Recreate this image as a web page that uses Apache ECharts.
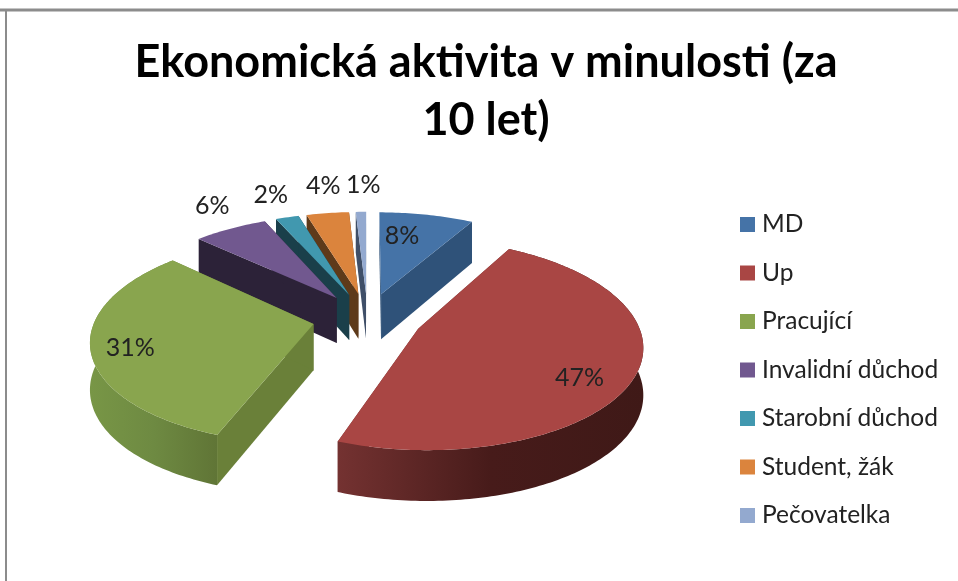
<!DOCTYPE html>
<html>
<head>
<meta charset="utf-8">
<style>
  html, body { margin: 0; padding: 0; background: #fff; }
  #chart { width: 958px; height: 581px; }
</style>
<script src="https://cdn.jsdelivr.net/npm/echarts@6/dist/echarts.min.js"></script>
</head>
<body>
<div id="chart"></div>
<script>
const categories = ['MD', 'Up', 'Pracující', 'Invalidní důchod', 'Starobní důchod', 'Student, žák', 'Pečovatelka']
const values = [8.2, 47.4, 31.4, 6.4, 2, 3.7, 0.9]
const colors = ['#4573A7', '#A94644', '#89A54E', '#71588F', '#4198AF', '#DB843D', '#93A9CF']
const sideColors = ['#2F5279', '#6F2E2D', '#6A8039', '#2C2238', '#1A3F4A', '#5E3A1A', '#3F4F68']
// rim shading, only the two front slices show it
const rimColors = [null, ['#743231', '#471B1A', '#3F1917'], ['#789646', '#6E8A42', '#607536'], null, null, null, null]
// label spot in the slice: angle in degrees, share of the radius
const labelSpots = [[9.6, 0.69], [123.6, 0.8], [254, 0.83], [328, 1.33], [340.2, 1.34], [351.4, 1.39], [359.3, 1.39]]

// view of the tilted disc
const cx = 367.5
const cy = 318
const radius = 218
const explode = 55
const tilt = 0.46
const viewDist = 1500
const depth = 46

const total = values.reduce((a, b) => a + b, 0)
const startAngles = values.map((v, i) => values.slice(0, i).reduce((a, b) => a + b, 0) / total * 360)

function disc(deg, r) {
  const a = deg * Math.PI / 180
  return [Math.sin(a) * r, -Math.cos(a) * r]
}

function project(w) {
  const s = 1 / (1 - w[1] / viewDist)
  return [cx + w[0] * s, cy + w[1] * tilt * s]
}

function drop(w) {
  const p = project(w)
  return [p[0], p[1] + depth + w[1] * 0.02]
}

function renderSlice(params, api) {
  const i = params.seriesIndex
  const from = startAngles[i]
  const to = from + api.value(0) / total * 360
  const off = disc((from + to) / 2, explode)
  const at = (deg, r) => {
    const d = disc(deg, r)
    return [off[0] + d[0], off[1] + d[1]]
  }
  const rim = []
  for (let deg = from; deg < to; deg += 1) rim.push(at(deg, radius))
  rim.push(at(to, radius))

  const tip = off
  const first = rim[0]
  const last = rim[rim.length - 1]
  const quad = (a, b) => [project(a), project(b), drop(b), drop(a)]
  const side = { fill: sideColors[i] }
  const children = [
    { type: 'polygon', shape: { points: quad(tip, first) }, style: side },
    { type: 'polygon', shape: { points: quad(tip, last) }, style: side }
  ]
  if (rimColors[i]) {
    const c = rimColors[i]
    children.push({
      type: 'polygon',
      shape: { points: rim.map(project).concat(rim.map(drop).reverse()) },
      style: {
        fill: new echarts.graphic.LinearGradient(0, 0, 1, 0, [
          { offset: 0, color: c[0] },
          { offset: 0.5, color: c[1] },
          { offset: 1, color: c[2] }
        ])
      }
    })
  }
  children.push({
    type: 'polygon',
    shape: { points: [project(tip)].concat(rim.map(project)) },
    style: { fill: colors[i] }
  })
  const spot = project(at(labelSpots[i][0], labelSpots[i][1] * radius))
  children.push({
    type: 'text',
    style: {
      x: spot[0],
      y: spot[1],
      text: Math.round(api.value(0)) + '%',
      fill: '#222',
      font: '25px Lato',
      textAlign: 'center',
      verticalAlign: 'middle'
    }
  })
  return { type: 'group', children: children }
}

const myChart = echarts.init(document.getElementById('chart'))
const option = {
  animation: false,
  backgroundColor: '#fff',
  title: {
    text: 'Ekonomická aktivita v minulosti (za\n10 let)',
    left: 481,
    top: 28,
    textAlign: 'center',
    textStyle: {
      color: '#000',
      fontFamily: 'Lato',
      fontWeight: 'bold',
      fontSize: 45,
      lineHeight: 58
    }
  },
  legend: {
    orient: 'vertical',
    left: 735,
    top: 207,
    data: categories,
    icon: 'rect',
    itemWidth: 15,
    itemHeight: 15,
    itemGap: 23.5,
    selectedMode: false,
    textStyle: {
      color: '#222',
      fontFamily: 'Lato',
      fontSize: 24.5,
      padding: [0, 0, 0, 2]
    }
  },
  graphic: [
    { type: 'line', silent: true, shape: { x1: 0, y1: 10, x2: 958, y2: 10 }, style: { stroke: '#8c8c8c', lineWidth: 3 } },
    { type: 'line', silent: true, shape: { x1: 6, y1: 9, x2: 6, y2: 581 }, style: { stroke: '#8c8c8c', lineWidth: 2 } }
  ],
  series: categories.map((name, i) => ({
    type: 'custom',
    name: name,
    coordinateSystem: 'none',
    silent: true,
    // front slices paint over the back ones
    z: 2 + Math.round(-Math.cos((startAngles[i] + values[i] / total * 180) * Math.PI / 180) * 50 + 50),
    itemStyle: { color: colors[i] },
    renderItem: renderSlice,
    data: [[values[i]]]
  }))
}
myChart.setOption(option)
</script>
</body>
</html>
